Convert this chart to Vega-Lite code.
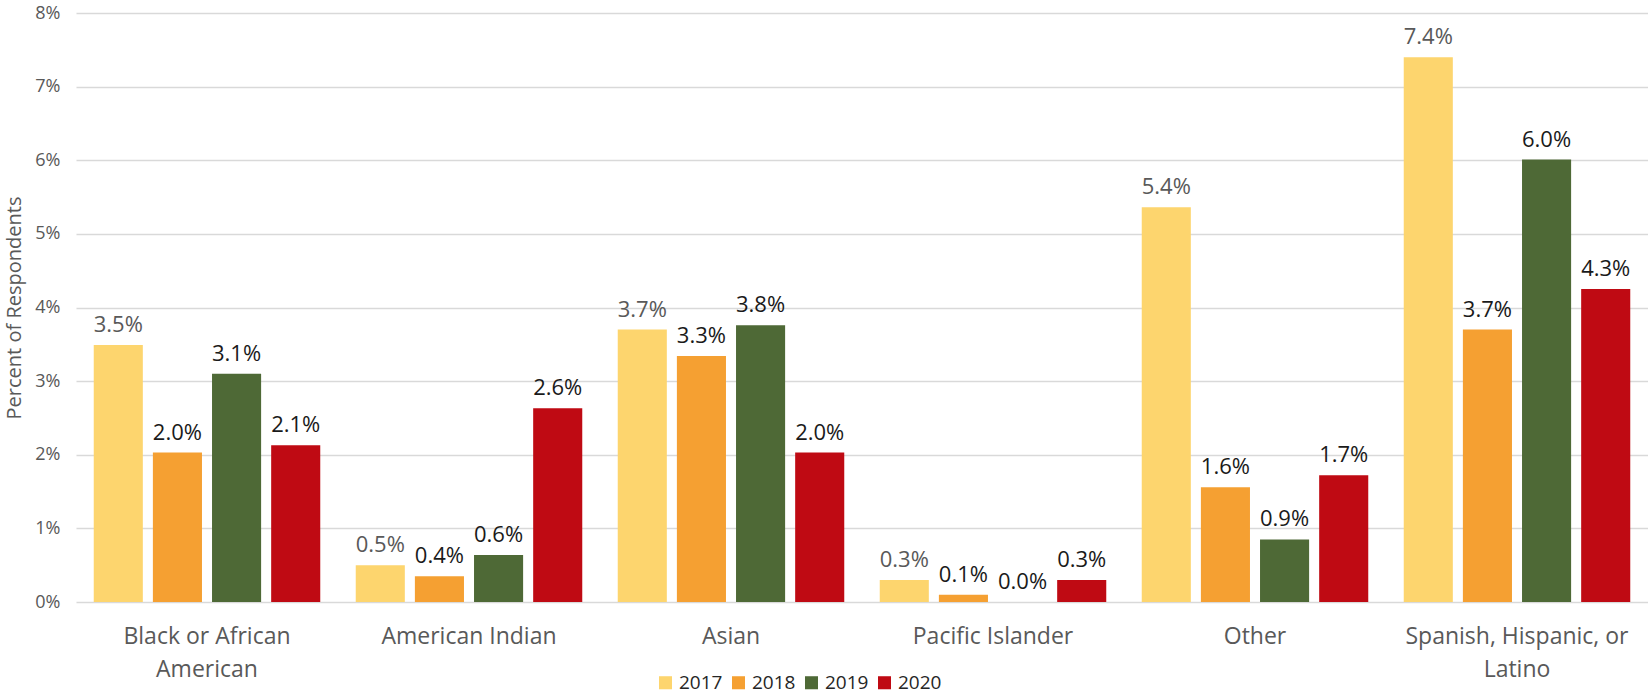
{
  "$schema": "https://vega.github.io/schema/vega-lite/v6.json",
  "autosize": {"type": "none"},
  "padding": {"left": 76, "top": 13, "right": 0, "bottom": 96},
  "width": 1572,
  "height": 589,
  "background": "white",
  "config": {
    "font": "Open Sans",
    "view": {"stroke": null}
  },
  "data": {
    "values": [
      {"category": "Black or African American", "year": "2017", "value": 0.0349, "label": "3.5%"},
      {"category": "Black or African American", "year": "2018", "value": 0.0203, "label": "2.0%"},
      {"category": "Black or African American", "year": "2019", "value": 0.0310, "label": "3.1%"},
      {"category": "Black or African American", "year": "2020", "value": 0.0213, "label": "2.1%"},
      {"category": "American Indian", "year": "2017", "value": 0.0050, "label": "0.5%"},
      {"category": "American Indian", "year": "2018", "value": 0.0035, "label": "0.4%"},
      {"category": "American Indian", "year": "2019", "value": 0.0064, "label": "0.6%"},
      {"category": "American Indian", "year": "2020", "value": 0.0263, "label": "2.6%"},
      {"category": "Asian", "year": "2017", "value": 0.0370, "label": "3.7%"},
      {"category": "Asian", "year": "2018", "value": 0.0334, "label": "3.3%"},
      {"category": "Asian", "year": "2019", "value": 0.0376, "label": "3.8%"},
      {"category": "Asian", "year": "2020", "value": 0.0203, "label": "2.0%"},
      {"category": "Pacific Islander", "year": "2017", "value": 0.0030, "label": "0.3%"},
      {"category": "Pacific Islander", "year": "2018", "value": 0.0010, "label": "0.1%"},
      {"category": "Pacific Islander", "year": "2019", "value": 0.0000, "label": "0.0%"},
      {"category": "Pacific Islander", "year": "2020", "value": 0.0030, "label": "0.3%"},
      {"category": "Other", "year": "2017", "value": 0.0536, "label": "5.4%"},
      {"category": "Other", "year": "2018", "value": 0.0156, "label": "1.6%"},
      {"category": "Other", "year": "2019", "value": 0.0085, "label": "0.9%"},
      {"category": "Other", "year": "2020", "value": 0.0172, "label": "1.7%"},
      {"category": "Spanish, Hispanic, or Latino", "year": "2017", "value": 0.0740, "label": "7.4%"},
      {"category": "Spanish, Hispanic, or Latino", "year": "2018", "value": 0.0370, "label": "3.7%"},
      {"category": "Spanish, Hispanic, or Latino", "year": "2019", "value": 0.0601, "label": "6.0%"},
      {"category": "Spanish, Hispanic, or Latino", "year": "2020", "value": 0.0425, "label": "4.3%"}
    ]
  },
  "encoding": {
    "x": {
      "field": "category",
      "type": "nominal",
      "sort": null,
      "scale": {"paddingInner": 0, "paddingOuter": 0},
      "axis": {
        "title": null,
        "labelAngle": 0,
        "labelFontSize": 23,
        "labelColor": "#595959",
        "labelPadding": 23,
        "labelLineHeight": 33,
        "labelLimit": 0,
        "ticks": false,
        "domain": false,
        "labelExpr": "datum.value == 'Black or African American' ? ['Black or African', 'American'] : datum.value == 'Spanish, Hispanic, or Latino' ? ['Spanish, Hispanic, or', 'Latino'] : datum.value"
      }
    },
    "xOffset": {
      "field": "year",
      "type": "nominal",
      "scale": {"paddingInner": 0.17, "paddingOuter": 0.3}
    },
    "y": {
      "field": "value",
      "type": "quantitative",
      "scale": {"domain": [0, 0.08]},
      "axis": {
        "title": "Percent of Respondents",
        "titleFontSize": 20,
        "titleFontWeight": "normal",
        "titleColor": "#595959",
        "titlePadding": 10,
        "format": ".0%",
        "values": [0, 0.01, 0.02, 0.03, 0.04, 0.05, 0.06, 0.07, 0.08],
        "labelFontSize": 18,
        "labelColor": "#595959",
        "labelPadding": 16,
        "ticks": false,
        "domain": false,
        "grid": true,
        "gridColor": "#d9d9d9",
        "gridWidth": 1.5
      }
    }
  },
  "layer": [
    {
      "mark": {"type": "bar"},
      "encoding": {
        "color": {
          "field": "year",
          "type": "nominal",
          "scale": {
            "domain": ["2017", "2018", "2019", "2020"],
            "range": ["#FDD56E", "#F5A032", "#4E6936", "#BF0A13"]
          },
          "legend": {
            "title": null,
            "orient": "none",
            "direction": "horizontal",
            "legendX": 580,
            "legendY": 660,
            "symbolType": "square",
            "symbolSize": 170,
            "symbolStrokeWidth": 0,
            "labelFontSize": 19,
            "labelColor": "#262626",
            "columnPadding": 6,
            "labelOffset": 4
          }
        }
      }
    },
    {
      "mark": {"type": "text", "baseline": "bottom", "dy": -8, "fontSize": 22},
      "encoding": {
        "text": {"field": "label"},
        "color": {
          "condition": {"test": "datum.year == '2017'", "value": "#595959"},
          "value": "#1a1a1a"
        }
      }
    }
  ]
}
